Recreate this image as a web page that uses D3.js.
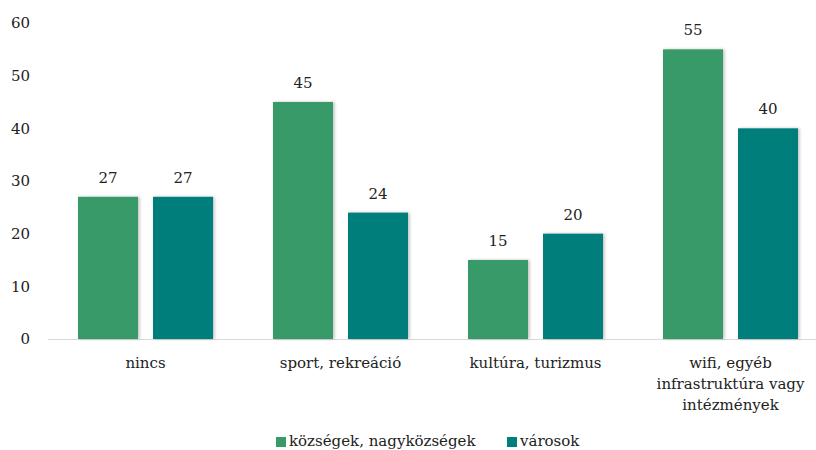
<!DOCTYPE html>
<html>
<head>
<meta charset="utf-8">
<script src="https://cdn.jsdelivr.net/npm/d3@7"></script>
<style>
  body { margin: 0; background: #fff; }
</style>
</head>
<body>
<svg id="chart" width="816" height="450"></svg>
<script>
const categories = [
  ["nincs"],
  ["sport, rekreáció"],
  ["kultúra, turizmus"],
  ["wifi, egyéb", "infrastruktúra vagy", "intézmények"]
];
const seriesNames = ["községek, nagyközségek", "városok"];
const kozsegek = [27, 45, 15, 55];
const varosok = [27, 24, 20, 40];
const yTicks = [0, 10, 20, 30, 40, 50, 60];
const colors = ["#389A67", "#007E7B"];

const FONT = "15px 'DejaVu Serif', 'Liberation Serif', serif";
const svg = d3.select("#chart");

const defs = svg.append("defs");
const f = defs.append("filter").attr("id", "shadow")
  .attr("x", "-10%").attr("y", "-5%").attr("width", "130%").attr("height", "110%");
f.append("feDropShadow").attr("dx", 1.5).attr("dy", 0).attr("stdDeviation", 1.5)
  .attr("flood-color", "#000").attr("flood-opacity", 0.25);

const x0 = d3.scaleBand().domain(d3.range(categories.length)).range([48, 828]).paddingInner(0).paddingOuter(0);
const x1 = d3.scaleBand().domain([0, 1]).range([30, 165]).paddingInner(0.2).paddingOuter(0);
const y = d3.scaleLinear().domain([0, 60]).range([339, 23]);

// y-axis labels
svg.append("g").selectAll("text").data(yTicks).join("text")
  .attr("x", 30).attr("y", d => y(d)).attr("dy", "0.35em")
  .attr("text-anchor", "end").attr("fill", "#222")
  .style("font", FONT)
  .text(d => d);

// baseline
svg.append("line").attr("x1", 48).attr("x2", 816)
  .attr("y1", y(0) + 0.5).attr("y2", y(0) + 0.5)
  .attr("stroke", "#d9d9d9").attr("stroke-width", 1.2);

const rows = categories.map((c, i) => ({ i, vals: [kozsegek[i], varosok[i]] }));

const groups = svg.append("g").selectAll("g").data(rows).join("g")
  .attr("transform", d => `translate(${x0(d.i)},0)`);

groups.selectAll("rect").data(d => d.vals.map((v, s) => ({ v, s }))).join("rect")
  .attr("x", d => x1(d.s)).attr("width", x1.bandwidth())
  .attr("y", d => y(d.v)).attr("height", d => y(0) - y(d.v))
  .attr("fill", d => colors[d.s]).attr("filter", "url(#shadow)");

groups.selectAll("text.val").data(d => d.vals.map((v, s) => ({ v, s }))).join("text")
  .attr("class", "val")
  .attr("x", d => x1(d.s) + x1.bandwidth() / 2).attr("y", d => y(d.v) - 14)
  .attr("text-anchor", "middle").attr("fill", "#222")
  .style("font", FONT)
  .text(d => d.v);

// category labels, centred under each pair of bars
svg.append("g").selectAll("text").data(categories).join("text")
  .attr("x", (d, i) => x0(i) + x0.bandwidth() / 2)
  .attr("y", 368).attr("text-anchor", "middle").attr("fill", "#222")
  .style("font", FONT)
  .each(function(d) {
    d3.select(this).selectAll("tspan").data(d).join("tspan")
      .attr("x", d3.select(this).attr("x")).attr("dy", (t, k) => k === 0 ? 0 : 21)
      .text(t => t);
  });

// legend
const legend = svg.append("g");
const legendItems = [{ x: 276, name: seriesNames[0], c: colors[0] }, { x: 507, name: seriesNames[1], c: colors[1] }];
legend.selectAll("rect").data(legendItems).join("rect")
  .attr("x", d => d.x).attr("y", 437).attr("width", 10).attr("height", 10).attr("fill", d => d.c);
legend.selectAll("text").data(legendItems).join("text")
  .attr("x", d => d.x + 13).attr("y", 446).attr("fill", "#222")
  .style("font", FONT)
  .text(d => d.name);
</script>
</body>
</html>
